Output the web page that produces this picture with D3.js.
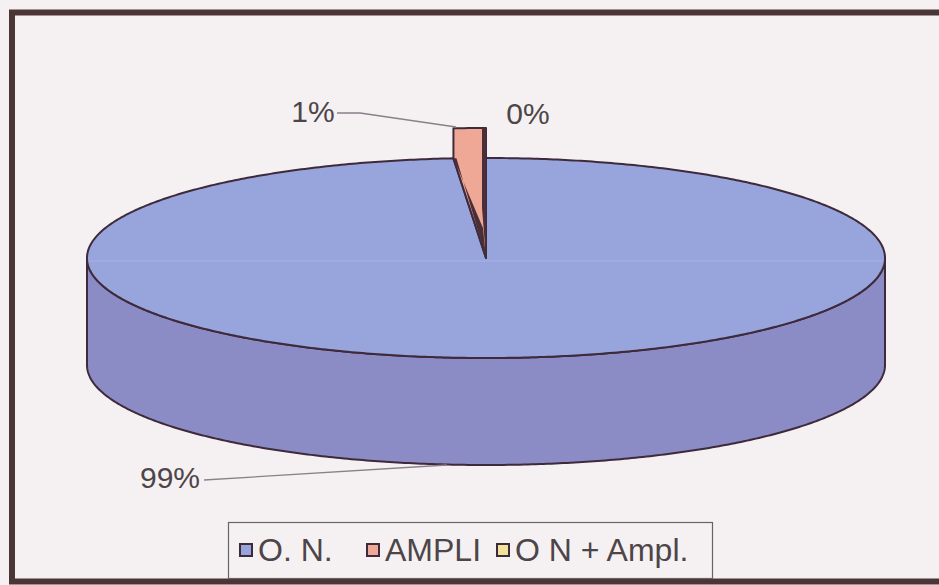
<!DOCTYPE html>
<html>
<head>
<meta charset="utf-8">
<script src="https://cdn.jsdelivr.net/npm/d3@7"></script>
<style>
body { margin: 0; background: #f5f1f3; overflow: hidden; }
svg { display: block; }
text { font-family: "Liberation Sans", Arial, sans-serif; }
</style>
</head>
<body>
<svg id="chart"></svg>
<script>
var width = 939, height = 585;

// data
var categories = ["O. N.", "AMPLI", "O N + Ampl."];
var values = [98.7, 1.3, 0];
var labels = ["99%", "1%", "0%"];
var colors = ["#97a5dc", "#f0a896", "#f1e39c"];
var sideColors = ["#8b8bc6", "#c98578", "#cbbd7c"];

var cx = 486, cy = 258, rx = 399, ry = 100, depth = 107, lift = 30;
var edge = "#3e2a3a";
var ink = "#4d4548";

var svg = d3.select("#chart").attr("width", width).attr("height", height);

//frame (right side runs off the picture)
svg.append("rect")
	.attr("x", 0).attr("y", 0).attr("width", width).attr("height", height)
	.attr("fill", "#f5f1f3");
svg.append("path")
	.attr("d", "M" + (width + 5) + ",12.5H12V581.5H" + (width + 5))
	.attr("fill", "none")
	.attr("stroke", "#4b3637")
	.attr("stroke-width", 6);

var pie = d3.pie().sort(null).startAngle(0).endAngle(2 * Math.PI);
var arcs = pie(values);

//angle -> point on the top ellipse, clockwise from 12 o'clock
function pt(a, dy) {
	return [cx + rx * Math.sin(a), cy - ry * Math.cos(a) + (dy || 0)];
}
function arcPts(a0, a1, dy) {
	var n = Math.max(2, Math.ceil(Math.abs(a1 - a0) / 0.01));
	var s = d3.scaleLinear().domain([0, n]).range([a0, a1]);
	return d3.range(n + 1).map(function(i) { return pt(s(i), dy); });
}
var line = d3.line();

var g = svg.append("g");

//side wall of the big slice (front half)
var a = arcs[0];
var frontFrom = Math.max(a.startAngle, Math.PI / 2), frontTo = Math.min(a.endAngle, 3 * Math.PI / 2);
var side = arcPts(frontFrom, frontTo, 0).concat(arcPts(frontTo, frontFrom, depth));
g.append("path")
	.attr("d", line(side) + "Z")
	.attr("fill", sideColors[0])
	.attr("stroke", edge)
	.attr("stroke-width", 2)
	.attr("stroke-linejoin", "round");

//top face of the big slice
var top0 = [[cx, cy]].concat(arcPts(a.startAngle, a.endAngle, 0));
g.append("path")
	.attr("d", line(top0) + "Z")
	.attr("fill", colors[0])
	.attr("stroke", edge)
	.attr("stroke-width", 2)
	.attr("stroke-linejoin", "round");

//faint line left by the scan
g.append("line")
	.attr("x1", cx - rx + 2).attr("x2", cx + rx - 2)
	.attr("y1", cy + 3).attr("y2", cy + 3)
	.attr("stroke", "#a9b3e2").attr("stroke-width", 1);

//small slice, pulled out to the back
var b = arcs[1];
var wedge = [[cx, cy]].concat(arcPts(b.endAngle, b.startAngle, -lift)).concat([pt(b.startAngle, 0)]);
g.append("path")
	.attr("d", line(wedge) + "Z")
	.attr("fill", colors[1])
	.attr("stroke", edge)
	.attr("stroke-width", 2)
	.attr("stroke-linejoin", "round");
//dark cut faces
var p0 = pt(b.startAngle, 0), pe = pt(b.endAngle, -lift);
g.append("path")
	.attr("d", line([[pe[0], pe[1]], [pe[0] - 4, pe[1]], [pe[0] - 4, cy - 50], [cx, cy]]) + "Z")
	.attr("fill", "#4a2f38");
g.append("path")
	.attr("d", line([[p0[0], p0[1]], [p0[0] + 3, p0[1]], [cx, cy], [cx - 3, cy - 30]]) + "Z")
	.attr("fill", "#4a2f38");

//data labels
var lab = svg.append("g").attr("font-size", 30).attr("fill", ink);
lab.append("text").attr("x", 170).attr("y", 488).attr("text-anchor", "middle").text(labels[0]);
lab.append("text").attr("x", 313).attr("y", 122).attr("text-anchor", "middle").text(labels[1]);
lab.append("text").attr("x", 528).attr("y", 124).attr("text-anchor", "middle").text(labels[2]);

//leader lines
svg.append("path")
	.attr("d", line([[204, 480], [447, 465]]))
	.attr("fill", "none").attr("stroke", "#8c7f8a").attr("stroke-width", 1.3);
svg.append("path")
	.attr("d", line([[337, 113], [360, 113], [pe[0] - 30, pe[1] - 1]]))
	.attr("fill", "none").attr("stroke", "#8c7f8a").attr("stroke-width", 1.3);

//legend
var leg = svg.append("g");
leg.append("rect")
	.attr("x", 228.5).attr("y", 522.5)
	.attr("width", 484).attr("height", 56)
	.attr("fill", "#f5f1f3")
	.attr("stroke", "#6b6266").attr("stroke-width", 1.2);
var legX = [240, 367, 497];
categories.forEach(function(c, i) {
	leg.append("rect")
		.attr("x", legX[i]).attr("y", 544)
		.attr("width", 12).attr("height", 12)
		.attr("fill", colors[i])
		.attr("stroke", "#3e2a3a").attr("stroke-width", 2);
	leg.append("text")
		.attr("x", legX[i] + 18).attr("y", 561)
		.attr("font-size", 32).attr("fill", ink)
		.text(c);
});
</script>
</body>
</html>
